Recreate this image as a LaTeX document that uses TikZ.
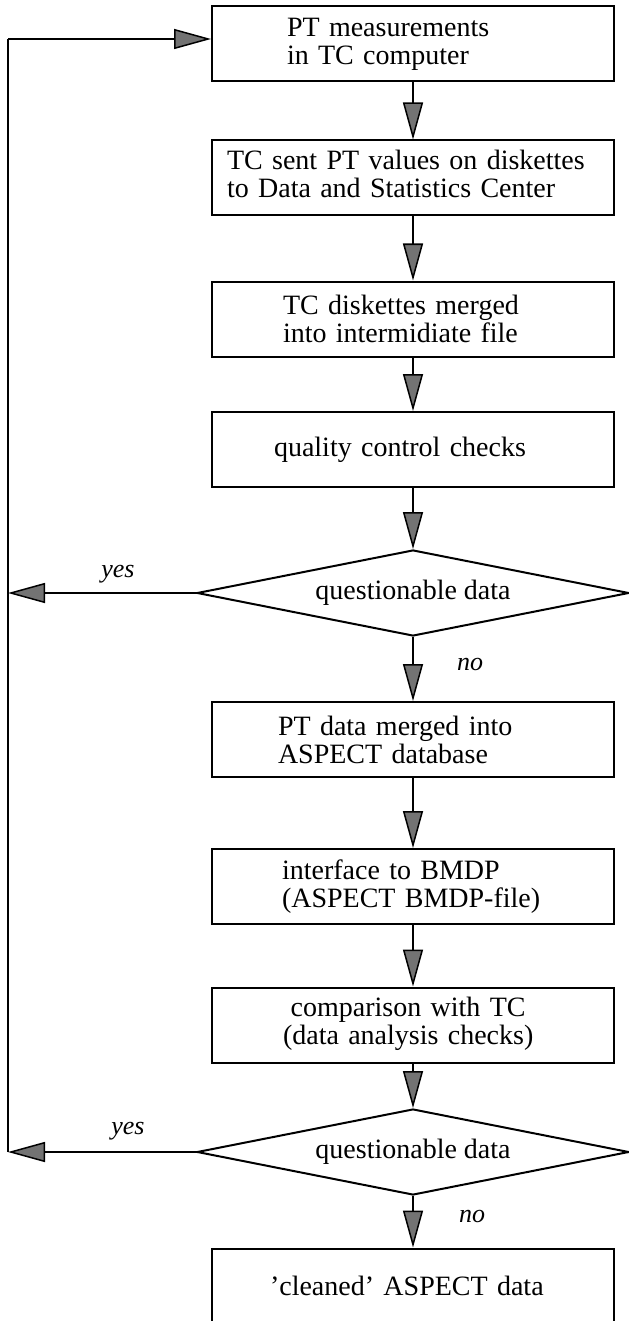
\documentclass[tikz,border=0pt]{standalone}
\usepackage{fontspec}
\setmainfont{Liberation Serif}
\usetikzlibrary{arrows.meta,shapes.geometric}

\begin{document}
\begin{tikzpicture}[x=0.5pt,y=-0.5pt,
  every node/.style={font=\fontsize{14}{14}\selectfont},
  box/.style={draw, line width=1pt, rectangle, minimum width=201pt,
    minimum height=37.5pt, align=left, inner ysep=0pt},
  dia/.style={draw, line width=1pt, diamond, aspect=5, inner sep=0pt,
    minimum width=216pt, minimum height=43pt},
  arr/.style={line width=0.75pt,
    -{Triangle[length=18.5pt, width=10pt, fill=black!55]}},
  loopline/.style={line width=0.75pt},
  lbl/.style={font=\fontsize{13}{13}\selectfont\itshape, inner sep=0pt}]

\useasboundingbox (0,0) rectangle (628,1321);

% process steps
\node[box, inner xsep=37.5pt, text width=126pt] (b1) at (413,44)
  {PT measurements\\in TC computer};
\node[box, inner xsep=7.5pt, text width=186pt] (b2) at (413,178)
  {\begin{tabular}{@{}l@{}}TC sent PT values on diskettes\\to Data and Statistics Center\end{tabular}};
\node[box, inner xsep=35.5pt, text width=130pt] (b3) at (413,319)
  {TC diskettes merged\\into intermidiate file};
\node[box, inner xsep=31pt, text width=139pt] (b4) at (413,449.5)
  {quality control checks};
\node[dia] (d1) at (413,593) {questionable data};
\node[box, inner xsep=33pt, text width=135pt] (b5) at (413,739.5)
  {PT data merged into\\ASPECT database};
\node[box, inner xsep=35pt, text width=131pt] (b6) at (413,886.5)
  {interface to BMDP\\(ASPECT BMDP-file)};
\node[box, inner xsep=35.5pt, text width=130pt] (b7) at (413,1025)
  {\begin{tabular}{@{}c@{}}comparison with TC\\(data analysis checks)\end{tabular}};
\node[dia] (d2) at (413,1152) {questionable data};
\node[box, inner xsep=29pt, text width=143pt] (b8) at (413,1286)
  {'cleaned' ASPECT data};

% main flow
\draw[arr] (b1.south) -- (b2.north);
\draw[arr] (b2.south) -- (b3.north);
\draw[arr] (b3.south) -- (b4.north);
\draw[arr] (b4.south) -- (d1.north);
\draw[arr] (d1.south) -- (b5.north);
\draw[arr] (b5.south) -- (b6.north);
\draw[arr] (b6.south) -- (b7.north);
\draw[arr] (b7.south) -- (d2.north);
\draw[arr] (d2.south) -- (b8.north);

% feedback loop on the left
\coordinate (lt) at (8,39);
\coordinate (lb) at (8,1152);
\draw[arr] (d1.west) -- (d1.west -| lt);
\draw[arr] (d2.west) -- (lb);
\draw[loopline] (lb) -- (lt);
\draw[arr] (lt) -- (lt -| b1.west);

% branch labels
\node[lbl, anchor=base] (yes1) at (118,577) {yes};
\node[lbl, anchor=base] (no1) at (470,670) {no};
\node[lbl, anchor=base] (yes2) at (128,1134) {yes};
\node[lbl, anchor=base] (no2) at (472,1222) {no};
\end{tikzpicture}
\end{document}
